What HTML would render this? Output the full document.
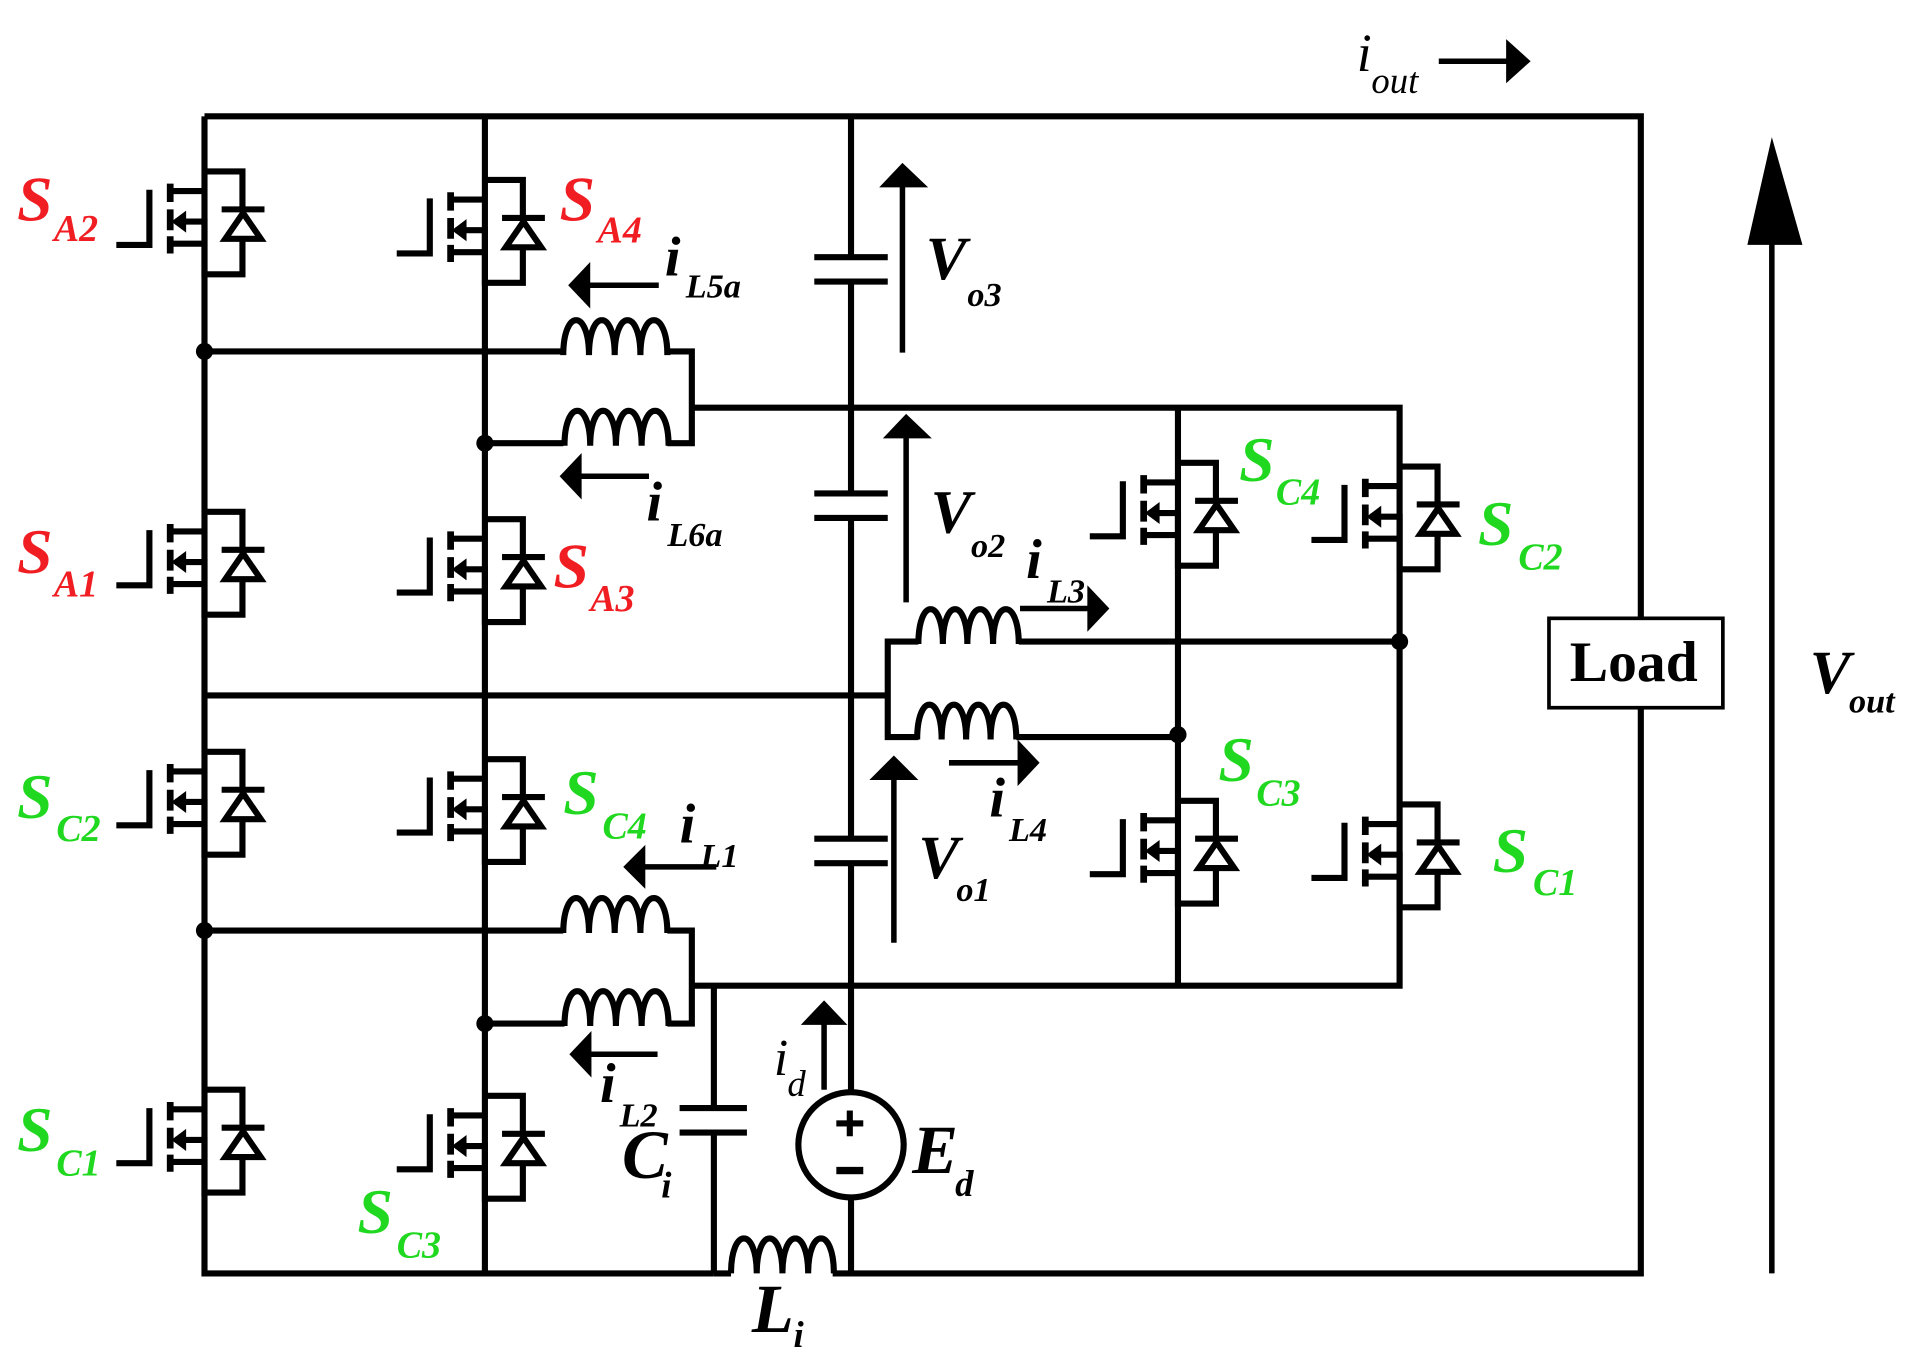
<!DOCTYPE html>
<html><head><meta charset="utf-8"><style>
html,body{margin:0;padding:0;background:#fff;}
svg{display:block;}
text{font-family:"Liberation Serif",serif;font-weight:bold;font-style:italic;}
.r{fill:#f01e23}.g{fill:#1fd81f}.k{fill:#000}
</style></head><body>
<svg width="1920" height="1364" viewBox="0 0 1568 1114" preserveAspectRatio="none" xmlns="http://www.w3.org/2000/svg">
<defs>
<g id="m">
 <path d="M0,16 H-28 M-28,59 H0 V84 H31 V56 M0,0 H31 V31 M-24,41 H0 V59 M-45,15 V60 H-72" fill="none" stroke="#000" stroke-width="5"/>
 <path d="M-28,10 V25 M-28,31 V48 M-28,53 V67" fill="none" stroke="#000" stroke-width="5.5"/>
 <path d="M14,31 H49" stroke="#000" stroke-width="5"/>
 <polygon points="31.5,34 46,55 17,55" fill="#fff" stroke="#000" stroke-width="5"/>
 <polygon points="-27,41 -15,32 -15,50" fill="#000"/>
</g>
</defs>
<g fill="none" stroke="#000" stroke-width="5">
 <path d="M167,95 H1340 V505 M1340,578 V1040 H695 M583,1040 H167 V95 M396,95 V1040"/>
 <path d="M583,1040 H597 M680,1040 H695"/>
 <path d="M597,1040 c0,-38 21,-38 21,0 c0,-38 21,-38 21,0 c0,-38 21,-38 21,0 c0,-38 21,-38 21,0"/>
 <path d="M695,95 V210 M695,230 V403 M695,423 V685 M695,705 V892 M695,978 V1040"/>
 <path d="M665,210 H725 M665,230 H725 M665,403 H725 M665,423 H725 M665,685 H725 M665,705 H725"/>
 <path d="M167,287 H460 M545,287 H565 V362 H545 M460,362 H396 M565,333 H1143 V805 H565 M962,333 V805"/>
 <path d="M460,290 c0,-38 21,-38 21,0 c0,-38 21,-38 21,0 c0,-38 21,-38 21,0 c0,-38 22,-38 22,0"/>
 <path d="M461,364 c0,-38 21,-38 21,0 c0,-38 21,-38 21,0 c0,-38 21,-38 21,0 c0,-38 22,-38 22,0"/>
 <path d="M167,568 H725 V524 H750 M832,524 H1143 M725,568 V602 H750 M830,602 H962"/>
 <path d="M750,526 c0,-38 20,-38 20,0 c0,-38 20,-38 20,0 c0,-38 21,-38 21,0 c0,-38 21,-38 21,0"/>
 <path d="M749,604 c0,-38 20,-38 20,0 c0,-38 20,-38 20,0 c0,-38 20,-38 20,0 c0,-38 21,-38 21,0"/>
 <path d="M167,760 H460 M545,760 H565 V836 H545 M461,836 H396"/>
 <path d="M460,762 c0,-38 21,-38 21,0 c0,-38 21,-38 21,0 c0,-38 21,-38 21,0 c0,-38 22,-38 22,0"/>
 <path d="M461,838 c0,-38 21,-38 21,0 c0,-38 21,-38 21,0 c0,-38 21,-38 21,0 c0,-38 22,-38 22,0"/>
 <path d="M583,803 V905 M583,925 V1040 M555,905 H610 M555,925 H610"/>
 <circle cx="695" cy="935" r="43"/>
 <rect x="1265" y="505" width="142" height="73" stroke-width="3"/>
</g>
<g fill="#000">
 <rect x="683" y="915" width="22" height="5"/><rect x="691.5" y="907" width="5" height="21"/>
 <rect x="683" y="953" width="22" height="6"/>
 <circle cx="167" cy="287" r="7"/><circle cx="396" cy="362" r="7"/><circle cx="1143" cy="524" r="7"/>
 <circle cx="962" cy="600" r="7"/><circle cx="167" cy="760" r="7"/><circle cx="396" cy="836" r="7"/>
</g>
<use href="#m" x="167" y="140"/><use href="#m" x="167" y="418"/><use href="#m" x="167" y="614"/><use href="#m" x="167" y="890"/>
<use href="#m" x="396" y="147"/><use href="#m" x="396" y="424"/><use href="#m" x="396" y="620"/><use href="#m" x="396" y="895"/>
<use href="#m" x="962" y="378"/><use href="#m" x="962" y="654"/>
<use href="#m" x="1143" y="381"/><use href="#m" x="1143" y="657"/>
<g stroke="#000" stroke-width="4.5" fill="none">
 <path d="M1175,50 H1235 M1447,1040 V190 M737,288 V148 M740,492 V352 M730,770 V632 M538,233 H478 M530,389 H470 M833,497 H892 M775,623 H835 M585,708 H522 M537,861 H478 M673,890 V832"/>
</g>
<g fill="#000">
 <polygon points="1230,32 1250,50 1230,68"/>
 <polygon points="1447,112 1472,200 1427,200"/>
 <polygon points="737,133 758,153 718,153"/>
 <polygon points="740,338 761,358 721,358"/>
 <polygon points="730,617 750,637 710,637"/>
 <polygon points="464,233 482,214 482,252"/>
 <polygon points="457,389 475,370 475,408"/>
 <polygon points="906,497 888,478 888,516"/>
 <polygon points="849,623 831,604 831,642"/>
 <polygon points="509,708 527,690 527,726"/>
 <polygon points="465,861 483,842 483,880"/>
 <polygon points="673,817 692,837 654,837"/>
</g>
<g font-size="52">
 <text class="r" x="14" y="180">S</text><text class="r" x="44" y="197" font-size="31">A2</text>
 <text class="r" x="457" y="180">S</text><text class="r" x="488" y="198" font-size="31">A4</text>
 <text class="r" x="14" y="468">S</text><text class="r" x="44" y="487" font-size="31">A1</text>
 <text class="r" x="452" y="480">S</text><text class="r" x="482" y="499" font-size="31">A3</text>
 <text class="g" x="14" y="668">S</text><text class="g" x="46" y="687" font-size="31">C2</text>
 <text class="g" x="460" y="665">S</text><text class="g" x="492" y="685" font-size="31">C4</text>
 <text class="g" x="14" y="940">S</text><text class="g" x="46" y="960" font-size="31">C1</text>
 <text class="g" x="292" y="1007">S</text><text class="g" x="324" y="1027" font-size="31">C3</text>
 <text class="g" x="1012" y="393">S</text><text class="g" x="1042" y="412" font-size="31">C4</text>
 <text class="g" x="1207" y="445">S</text><text class="g" x="1240" y="465" font-size="31">C2</text>
 <text class="g" x="995" y="638">S</text><text class="g" x="1026" y="658" font-size="31">C3</text>
 <text class="g" x="1219" y="712">S</text><text class="g" x="1252" y="731" font-size="31">C1</text>
</g>
<g class="k" font-size="46">
 <text x="543" y="225">i</text><text x="560" y="243" font-size="28">L5a</text>
 <text x="528" y="425">i</text><text x="545" y="446" font-size="28">L6a</text>
 <text x="838" y="472">i</text><text x="855" y="492" font-size="28">L3</text>
 <text x="808" y="667">i</text><text x="824" y="687" font-size="28">L4</text>
 <text x="555" y="688">i</text><text x="572" y="708" font-size="28">L1</text>
 <text x="490" y="900">i</text><text x="506" y="920" font-size="28">L2</text>
 <text x="756" y="228" font-size="50">V</text><text x="790" y="250" font-size="28">o3</text>
 <text x="760" y="435" font-size="50">V</text><text x="793" y="455" font-size="28">o2</text>
 <text x="750" y="717" font-size="50">V</text><text x="781" y="736" font-size="28">o1</text>
 <text x="1478" y="566" font-size="50">V</text><text x="1510" y="582" font-size="28">out</text>
 <text x="508" y="962" font-size="56">C</text><text x="540" y="978" font-size="30">i</text>
 <text x="745" y="958" font-size="56">E</text><text x="780" y="977" font-size="30">d</text>
 <text x="614" y="1088" font-size="56">L</text><text x="648" y="1100" font-size="30">i</text>
 <text x="632" y="878" font-size="42" style="font-weight:normal">i</text><text x="643" y="895" font-size="30" style="font-weight:normal">d</text>
 <text x="1108" y="58" font-size="44" style="font-weight:normal">i</text><text x="1120" y="76" font-size="30" style="font-weight:normal">out</text>
 <text x="1282" y="556" font-size="47" style="font-style:normal">Load</text>
</g>
</svg>
</body></html>
